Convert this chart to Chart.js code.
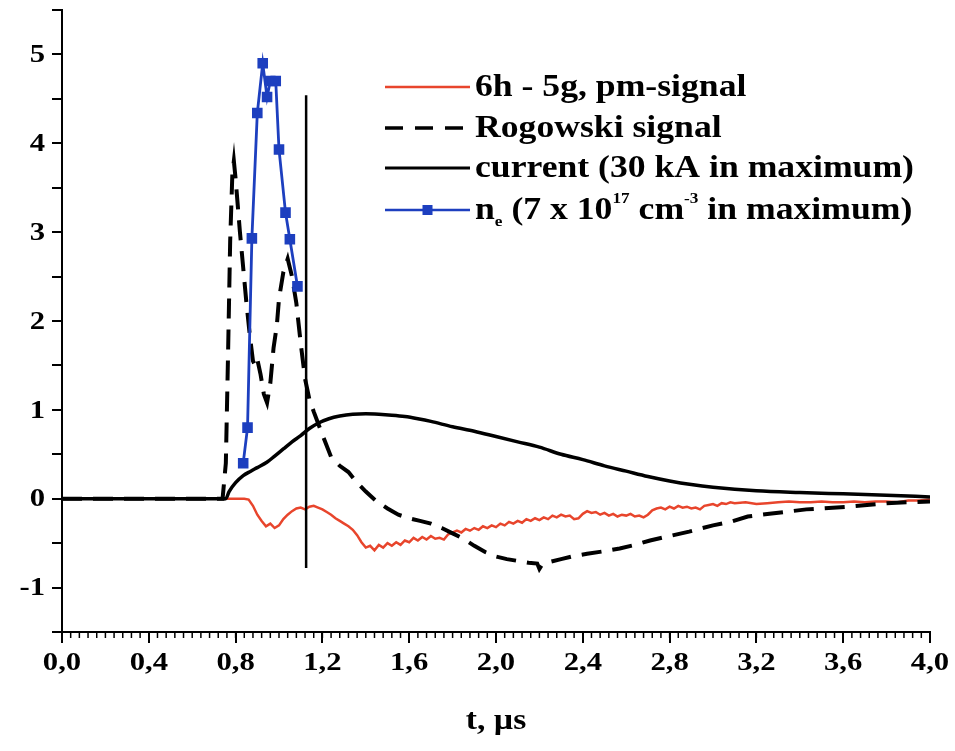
<!DOCTYPE html>
<html>
<head>
<meta charset="utf-8">
<script src="https://cdn.jsdelivr.net/npm/chart.js@4.4.1/dist/chart.umd.min.js"></script>
<style>
    html, body { margin: 0; padding: 0; background: #fff; }
</style>
</head>
<body>
<canvas id="chart" width="955" height="751"></canvas>
<script>
// pm-signal (6h - 5g), arbitrary units
const pmTime = [0, 0.84, 0.86, 0.88, 0.90, 0.92, 0.94, 0.96, 0.98, 1.00, 1.02, 1.04, 1.06, 1.08, 1.10, 1.12, 1.14, 1.16, 1.18, 1.20,
    1.22, 1.24, 1.26, 1.28, 1.30, 1.32, 1.34, 1.36, 1.38, 1.40, 1.42, 1.44, 1.46, 1.48, 1.50, 1.52, 1.54, 1.56, 1.58, 1.60,
    1.62, 1.64, 1.66, 1.68, 1.70, 1.72, 1.74, 1.76, 1.78, 1.80, 1.82, 1.84, 1.86, 1.88, 1.90, 1.92, 1.94, 1.96, 1.98, 2.00,
    2.02, 2.04, 2.06, 2.08, 2.10, 2.12, 2.14, 2.16, 2.18, 2.20, 2.22, 2.24, 2.26, 2.28, 2.30, 2.32, 2.34, 2.36, 2.38, 2.40,
    2.42, 2.44, 2.46, 2.48, 2.50, 2.52, 2.54, 2.56, 2.58, 2.60, 2.62, 2.64, 2.66, 2.68, 2.70, 2.72, 2.74, 2.76, 2.78, 2.80,
    2.82, 2.84, 2.86, 2.88, 2.90, 2.92, 2.94, 2.96, 2.98, 3.00, 3.02, 3.04, 3.06, 3.08, 3.10, 3.15, 3.20, 3.25, 3.30, 3.35,
    3.40, 3.45, 3.50, 3.55, 3.60, 3.65, 3.70, 3.75, 3.80, 3.85, 3.90, 3.95, 4.00];
const pmSignal = [0, 0, -0.01, -0.08, -0.18, -0.25, -0.31, -0.28, -0.33, -0.30, -0.23, -0.18, -0.14, -0.11, -0.10, -0.12, -0.09, -0.08, -0.10, -0.12,
    -0.15, -0.18, -0.22, -0.25, -0.28, -0.31, -0.35, -0.41, -0.49, -0.55, -0.53, -0.58, -0.52, -0.55, -0.50, -0.53, -0.49, -0.52, -0.47, -0.49,
    -0.44, -0.47, -0.43, -0.46, -0.42, -0.45, -0.44, -0.46, -0.40, -0.38, -0.36, -0.38, -0.34, -0.36, -0.33, -0.35, -0.31, -0.33, -0.30, -0.32,
    -0.28, -0.30, -0.26, -0.28, -0.25, -0.27, -0.23, -0.25, -0.22, -0.24, -0.21, -0.23, -0.19, -0.21, -0.18, -0.20, -0.19, -0.23, -0.22, -0.17,
    -0.14, -0.16, -0.15, -0.18, -0.16, -0.19, -0.17, -0.20, -0.18, -0.19, -0.17, -0.20, -0.19, -0.21, -0.18, -0.13, -0.11, -0.10, -0.12, -0.09,
    -0.11, -0.08, -0.10, -0.09, -0.11, -0.10, -0.12, -0.08, -0.07, -0.06, -0.08, -0.05, -0.06, -0.04, -0.05, -0.04, -0.06, -0.05, -0.04, -0.03,
    -0.04, -0.04, -0.03, -0.04, -0.04, -0.03, -0.04, -0.03, -0.03, -0.04, -0.02, -0.02, -0.01];

// Rogowski coil signal
const rogTime = [0, 0.74, 0.755, 0.765, 0.775, 0.785, 0.792, 0.80, 0.81, 0.82, 0.835, 0.85, 0.865, 0.88, 0.89, 0.90, 0.915, 0.93, 0.945, 0.96,
    0.975, 0.99, 1.00, 1.02, 1.04, 1.06, 1.08, 1.10, 1.12, 1.14, 1.16, 1.20, 1.24, 1.28, 1.32, 1.36, 1.40, 1.45, 1.50, 1.55,
    1.60, 1.65, 1.70, 1.75, 1.80, 1.85, 1.90, 1.95, 2.00, 2.05, 2.10, 2.15, 2.19, 2.20, 2.21, 2.25, 2.30, 2.35, 2.42, 2.50,
    2.57, 2.64, 2.71, 2.80, 2.89, 3.00, 3.08, 3.16, 3.26, 3.43, 3.62, 3.80, 4.00];
const rogSignal = [0, 0, 0.4, 1.6, 2.9, 3.65, 3.8, 3.6, 3.3, 3.0, 2.6, 2.2, 1.85, 1.55, 1.5, 1.57, 1.4, 1.18, 1.08, 1.3,
    1.7, 1.95, 2.25, 2.55, 2.7, 2.5, 2.2, 1.75, 1.35, 1.12, 0.98, 0.72, 0.47, 0.37, 0.3, 0.18, 0.08, -0.03, -0.11, -0.18,
    -0.22, -0.25, -0.28, -0.33, -0.39, -0.45, -0.53, -0.60, -0.65, -0.68, -0.70, -0.72, -0.73, -0.79, -0.75, -0.71, -0.68, -0.65, -0.62, -0.59,
    -0.56, -0.52, -0.47, -0.42, -0.37, -0.30, -0.26, -0.20, -0.17, -0.12, -0.09, -0.05, -0.03];

// discharge current, normalised (30 kA = 1)
const curTime = [0, 0.755, 0.77, 0.80, 0.835, 0.87, 0.90, 0.944, 0.98, 1.02, 1.06, 1.10, 1.14, 1.18, 1.23, 1.28, 1.34, 1.40, 1.46, 1.52,
    1.58, 1.64, 1.70, 1.80, 1.90, 2.00, 2.10, 2.20, 2.30, 2.40, 2.50, 2.60, 2.70, 2.80, 2.90, 3.00, 3.20, 3.40, 3.60, 3.80, 4.00];
const curValue = [0, 0, 0.08, 0.18, 0.26, 0.31, 0.35, 0.41, 0.48, 0.56, 0.64, 0.71, 0.79, 0.85, 0.90, 0.93, 0.95, 0.955, 0.95, 0.94,
    0.925, 0.90, 0.87, 0.81, 0.76, 0.70, 0.64, 0.58, 0.50, 0.44, 0.37, 0.31, 0.25, 0.20, 0.16, 0.13, 0.09, 0.07, 0.055, 0.04, 0.02];

// electron density n_e, normalised (7e17 cm^-3 = 7 units)
const neTime = [0.835, 0.855, 0.875, 0.90, 0.925, 0.945, 0.96, 0.985, 1.00, 1.03, 1.05, 1.085];
const neValue = [0.4, 0.8, 2.93, 4.34, 4.9, 4.52, 4.7, 4.7, 3.93, 3.22, 2.92, 2.39];

// vertical marker
const markerTime = 1.125;
const markerRange = [-0.78, 4.54];

const xTickStep = 0.4;
const xMinorStep = 0.04;
const yTickStep = 0.5;

const FONT = "'Liberation Serif', 'Times New Roman', serif";
const RED = '#e8452c';
const BLUE = '#1d3fbf';
const STRETCH = 1.18;   // the lettering is set wide

const toPoints = (xs, ys) => xs.map((x, i) => ({ x: x, y: ys[i] }));
const fmtX = (v) => v.toFixed(1).replace('.', ',');
const fmtY = (v) => Math.abs(v - Math.round(v)) < 1e-9 ? String(Math.round(v)) : '';

// draws text widened horizontally, returns the advance
function wideText (ctx, text, x, y, align, sx) {
    ctx.save();
    ctx.translate(x, y);
    ctx.scale(sx, 1);
    ctx.textAlign = align;
    ctx.fillText(text, 0, 0);
    const w = ctx.measureText(text).width * sx;
    ctx.restore();
    return w;
}

// small ticks along the time axis
const minorTicks = {
    id: 'minorTicks',
    afterDraw (chart) {
        const { ctx, scales: { x, y } } = chart;
        const base = y.getPixelForValue(y.min);
        ctx.save();
        ctx.strokeStyle = '#000';
        ctx.lineWidth = 1.5;
        const n = Math.round((x.max - x.min) / xMinorStep);
        for (let i = 0; i <= n; i++) {
            const px = x.getPixelForValue(x.min + i * xMinorStep);
            ctx.beginPath();
            ctx.moveTo(px, base);
            ctx.lineTo(px, base + 6);
            ctx.stroke();
        }
        ctx.restore();
    }
};

// tick labels and axis title
const axisText = {
    id: 'axisText',
    afterDraw (chart) {
        const { ctx, scales: { x, y } } = chart;
        ctx.save();
        ctx.fillStyle = '#000';
        ctx.font = `bold 26px ${FONT}`;
        ctx.textBaseline = 'middle';
        const xBase = y.getPixelForValue(y.min);
        x.ticks.forEach((t) => {
            wideText(ctx, fmtX(t.value), x.getPixelForValue(t.value), xBase + 31, 'center', STRETCH);
        });
        y.ticks.forEach((t) => {
            const s = fmtY(t.value);
            if (s) wideText(ctx, s, x.left - 17, y.getPixelForValue(t.value) + 1, 'right', STRETCH);
        });
        ctx.font = `bold 30px ${FONT}`;
        ctx.textBaseline = 'alphabetic';
        wideText(ctx, 't, µs', (x.left + x.right) / 2, 729, 'center', 1.12);
        ctx.restore();
    }
};

// legend with sub- and superscripts
const legendBox = {
    id: 'legendBox',
    afterDraw (chart) {
        const ctx = chart.ctx;
        const x0 = 385, x1 = 470, tx = 475;
        const rows = [87, 128, 168, 210];
        const sx = 1.15;
        ctx.save();
        ctx.textBaseline = 'middle';
        ctx.fillStyle = '#000';

        const sample = (y, color, width, dash) => {
            ctx.beginPath();
            ctx.setLineDash(dash);
            ctx.strokeStyle = color;
            ctx.lineWidth = width;
            ctx.moveTo(x0, y);
            ctx.lineTo(x1, y);
            ctx.stroke();
            ctx.setLineDash([]);
        };
        const runs = (y, parts) => {
            let x = tx;
            parts.forEach(([text, size, dy]) => {
                ctx.font = `bold ${size}px ${FONT}`;
                x += wideText(ctx, text, x, y + dy, 'left', sx);
            });
        };

        sample(rows[0], RED, 2.5, []);
        runs(rows[0], [['6h - 5g, pm-signal', 31, 1]]);

        sample(rows[1], '#000', 3.5, [18, 12]);
        runs(rows[1], [['Rogowski signal', 31, 1]]);

        sample(rows[2], '#000', 3, []);
        runs(rows[2], [['current (30 kA in maximum)', 31, 1]]);

        sample(rows[3], BLUE, 2.5, []);
        ctx.fillStyle = BLUE;
        ctx.fillRect((x0 + x1) / 2 - 5, rows[3] - 5, 10, 10);
        ctx.fillStyle = '#000';
        runs(rows[3], [['n', 31, 1], ['e', 15, 12], [' (7 x 10', 31, 1], ['17', 15, -11],
            [' cm', 31, 1], ['-3', 15, -11], [' in maximum)', 31, 1]]);
        ctx.restore();
    }
};

new Chart(document.getElementById('chart'), {
    type: 'line',
    data: {
        datasets: [
            {
                label: 'ne',
                data: toPoints(neTime, neValue),
                borderColor: BLUE,
                backgroundColor: BLUE,
                borderWidth: 2.8,
                pointStyle: 'rect',
                pointRadius: 5.5,
                order: 0
            },
            {
                label: 'marker',
                data: toPoints([markerTime, markerTime], markerRange),
                borderColor: '#000',
                borderWidth: 2.5,
                pointRadius: 0,
                order: 1
            },
            {
                label: 'current',
                data: toPoints(curTime, curValue),
                borderColor: '#000',
                borderWidth: 3.5,
                pointRadius: 0,
                cubicInterpolationMode: 'monotone',
                order: 2
            },
            {
                label: 'Rogowski',
                data: toPoints(rogTime, rogSignal),
                borderColor: '#000',
                borderWidth: 4,
                borderDash: [20, 11],
                pointRadius: 0,
                order: 3
            },
            {
                label: 'pm',
                data: toPoints(pmTime, pmSignal),
                borderColor: RED,
                borderWidth: 2.5,
                pointRadius: 0,
                order: 4
            }
        ]
    },
    options: {
        responsive: false,
        devicePixelRatio: 1,
        animation: false,
        layout: { padding: { top: 10, right: 25, left: 0, bottom: 0 } },
        plugins: {
            legend: { display: false },
            tooltip: { enabled: false }
        },
        scales: {
            x: {
                type: 'linear',
                min: 0,
                max: 4,
                ticks: { stepSize: xTickStep, display: false },
                grid: { drawOnChartArea: false, drawTicks: true, tickLength: 11, color: '#000', lineWidth: 2 },
                border: { display: true, color: '#000', width: 2 },
                afterFit: (scale) => { scale.height = 119; }
            },
            y: {
                min: -1.5,
                max: 5.5,
                ticks: { stepSize: yTickStep, display: false },
                grid: { drawOnChartArea: false, drawTicks: true, tickLength: 10, color: '#000', lineWidth: 2 },
                border: { display: true, color: '#000', width: 2 },
                afterFit: (scale) => { scale.width = 62; }
            }
        }
    },
    plugins: [minorTicks, axisText, legendBox]
});
</script>
</body>
</html>
